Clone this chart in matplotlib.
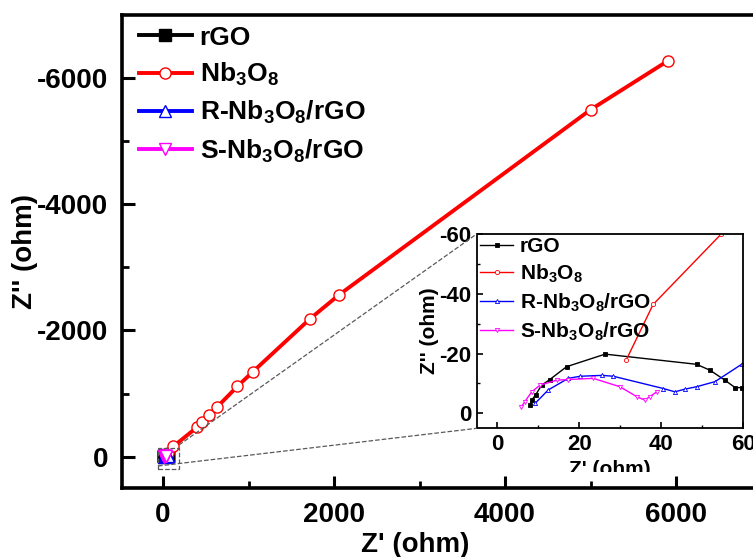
import matplotlib
matplotlib.use("Agg")
import matplotlib.pyplot as plt
import numpy as np
from matplotlib.patches import Rectangle
from matplotlib.transforms import Bbox, TransformedBbox

plt.rcParams['font.family'] = ['Liberation Sans', 'DejaVu Sans']
plt.rcParams['font.weight'] = 'bold'
plt.rcParams['axes.labelweight'] = 'bold'
plt.rcParams['axes.unicode_minus'] = False
plt.rcParams['mathtext.fontset'] = 'custom'
plt.rcParams['mathtext.rm'] = 'Liberation Sans:bold'
plt.rcParams['mathtext.it'] = 'Liberation Sans:bold'
plt.rcParams['mathtext.bf'] = 'Liberation Sans:bold'

labels = ["rGO", r"Nb$_3$O$_8$", r"R-Nb$_3$O$_8$/rGO", r"S-Nb$_3$O$_8$/rGO"]
colors = ["black", "red", "blue", "magenta"]
markers = ["s", "o", "^", "v"]

# Nyquist data, Z' and Z'' in ohm
rgo_re = [8.0, 8.4, 9.4, 10.8, 12.8, 16.9, 26.3, 48.6, 51.9, 55.5, 58.0, 59.6, 62.0]
rgo_im = [-2.8, -4.4, -6.3, -9.4, -11.3, -15.6, -19.8, -16.4, -14.4, -11.1, -8.6, -8.6, -8.4]

nb_re = [31.5, 38.0, 54.5, 120, 401, 452, 542, 628, 869, 1050, 1720, 2060, 5000, 5906]
nb_im = [-18.0, -36.4, -59.8, -163, -470, -543, -665, -781, -1113, -1345, -2185, -2565, -5495, -6270]

r_re = [9.2, 12.4, 17.3, 20.2, 25.6, 28.3, 40.5, 43.3, 45.8, 48.6, 53.1, 59.6, 62.0]
r_im = [-3.3, -7.8, -11.7, -12.4, -12.7, -12.4, -8.3, -7.2, -8.1, -8.9, -10.6, -16.4, -18.5]

s_re = [5.9, 6.7, 8.4, 10.4, 14.5, 17.3, 23.4, 29.9, 34.0, 36.0, 37.2, 38.9]
s_im = [-2.2, -3.9, -7.2, -9.4, -11.1, -11.3, -11.7, -8.9, -5.6, -4.4, -5.6, -7.2]

series = [(rgo_re, rgo_im), (nb_re, nb_im), (r_re, r_im), (s_re, s_im)]

W, H = 753, 557
fig = plt.figure(figsize=(W / 100, H / 100), dpi=100)

# main axes (right spine runs past the figure edge)
ax_w, ax_h = 639.5, 473.6
ax = fig.add_axes([122 / W, (H - 488.3) / H, ax_w / W, ax_h / H])
for (xr, yi), c, m, lab in zip(series, colors, markers, labels):
    ax.plot(xr, yi, color=c, lw=2.8, marker=m, ms=8, mfc='white' if m != 's' else c,
            mec=c, mew=1.0, label=lab)
ax.set_xlim(-480, 7000)
ax.set_ylim(500, -7000)
ax.set_xticks([0, 2000, 4000, 6000])
ax.set_xticks([1000, 3000, 5000], minor=True)
ax.set_yticks([0, -2000, -4000, -6000])
ax.set_yticks([-1000, -3000, -5000], minor=True)
ax.tick_params(which='major', direction='in', length=9, width=2.2, labelsize=20, pad=10)
ax.tick_params(which='minor', direction='in', length=5, width=2.0)
for sp in ax.spines.values():
    sp.set_linewidth(2.6)
ax.set_xlabel("Z' (ohm)", fontsize=20)
ax.set_ylabel("Z'' (ohm)", fontsize=20)
ax.xaxis.set_label_coords((415 - 122) / ax_w, (488.3 - 532) / ax_h)
ax.yaxis.set_label_coords((38 - 122) / ax_w, 0.5)
ax.legend(loc='upper left', bbox_to_anchor=(17 / ax_w, 1 - 11 / ax_h), frameon=False,
          fontsize=19, handlelength=2.0, handletextpad=0.3, labelspacing=0.42,
          borderaxespad=0.0, borderpad=0.0)

# zoom window around the origin
ax.add_patch(Rectangle((-60, 190), 250, -330, fill=False, ls='--', lw=0.9, ec='0.35', zorder=5))

# inset
axin = fig.add_axes([476.8 / W, (H - 428.3) / H, 266.5 / W, 194.4 / H])
for (xr, yi), c, m, lab in zip(series, colors, markers, labels):
    axin.plot(xr, yi, color=c, lw=1.0, marker=m, ms=3, mfc='white' if m != 's' else c,
              mec=c, mew=0.6, label=lab)
axin.set_xlim(-5, 60)
axin.set_ylim(5, -60)
axin.set_xticks([0, 20, 40, 60])
axin.set_xticks([10, 30, 50], minor=True)
axin.set_yticks([0, -20, -40, -60])
axin.set_yticks([-10, -30, -50], minor=True)
axin.tick_params(which='major', direction='in', length=4, width=1.2, labelsize=16, pad=4)
axin.tick_params(which='minor', direction='in', length=2, width=1.0)
for sp in axin.spines.values():
    sp.set_linewidth(1.3)
axin.set_xlabel("Z' (ohm)", fontsize=15, labelpad=4)
axin.set_ylabel("Z'' (ohm)", fontsize=15, labelpad=0)
axin.legend(loc='upper left', frameon=False, fontsize=15, handlelength=1.6,
            handletextpad=0.3, labelspacing=0.32, borderaxespad=0.0, borderpad=0.15)

# inset x label is cut by the main plot's lower edge
axin.xaxis.label.set_clip_box(TransformedBbox(Bbox([[0, (H - 472) / H], [1, 1]]), fig.transFigure))
axin.xaxis.label.set_clip_on(True)

# dashed connectors from zoom window to inset corners
fig.add_artist(plt.Line2D([179 / W, 476.8 / W], [(H - 445) / H, (H - 233.9) / H],
                          ls='--', lw=0.9, color='0.35'))
fig.add_artist(plt.Line2D([158 / W, 476.8 / W], [(H - 466) / H, (H - 428.3) / H],
                          ls='--', lw=0.9, color='0.35'))

fig.savefig("out.png", dpi=100)
